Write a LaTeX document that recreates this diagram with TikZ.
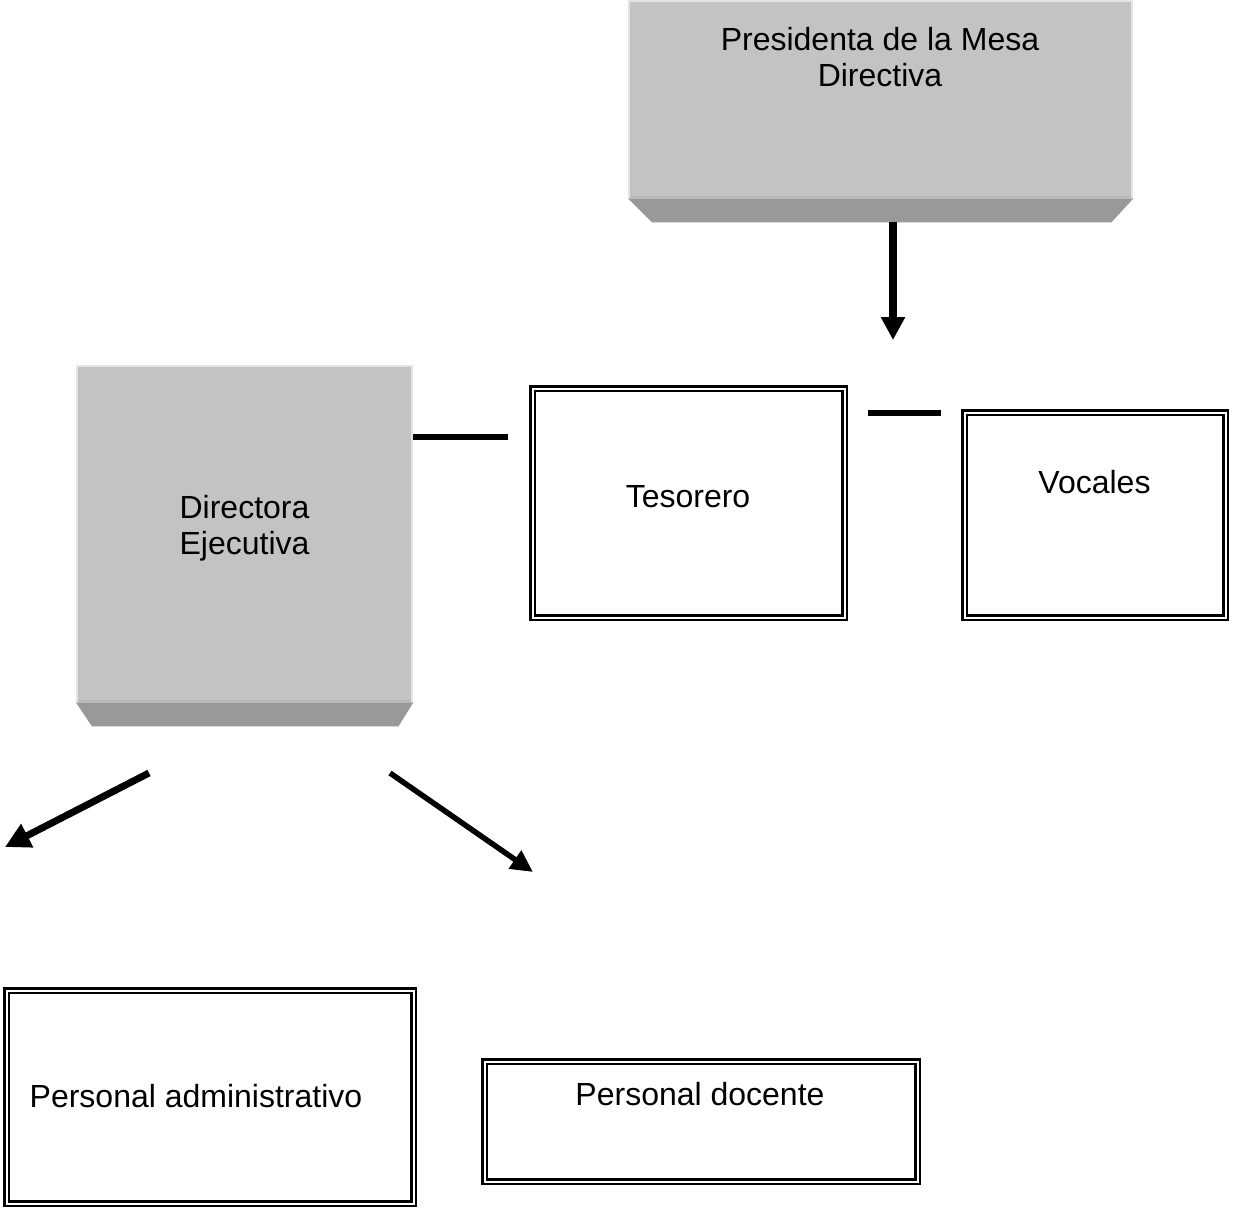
\documentclass[tikz,border=0pt]{standalone}
\usepackage{fontspec}
\setmainfont{Liberation Sans}
\usetikzlibrary{arrows.meta}
\definecolor{facegray}{HTML}{C3C3C3}
\definecolor{bevelgray}{HTML}{999999}
\definecolor{hilite}{HTML}{E4E4E4}
\definecolor{lowband}{HTML}{B8B8B8}
\begin{document}
\begin{tikzpicture}[x=1pt,y=-1pt,
  txt/.style={font=\fontsize{32}{36}\selectfont, align=center, inner sep=0pt},
  dbox/.style={draw=black, double=white, line width=2.5pt, double distance=2pt, inner sep=0pt, fill=white},
  facebox/.style={fill=facegray, draw=none, inner sep=0pt},
  conn/.style={line width=6pt},
  arrA/.style={line width=7pt, -{Triangle[length=25pt,width=25pt]}},
  arrB/.style={line width=5.5pt, -{Triangle[length=22pt,width=21pt]}},
  arrC/.style={line width=8pt, -{Triangle[length=23pt,width=23pt]}}]
\useasboundingbox (0,0) rectangle (1233,1209);
\fill[white] (0,0) rectangle (1233,1209);

% Presidenta (bevelled box)
\node[facebox, minimum width=505pt, minimum height=198pt, anchor=north west] (pres) at (628,0) {};
\fill[bevelgray] (pres.south west) -- (pres.south east) -- ([xshift=-22pt,yshift=-24pt]pres.south east) -- ([xshift=24pt,yshift=-24pt]pres.south west) -- cycle;
\draw[hilite, line width=2pt] ([xshift=1pt]pres.south west) -- ([xshift=1pt,yshift=-1pt]pres.north west) -- ([xshift=-1pt,yshift=-1pt]pres.north east) -- ([xshift=-1pt]pres.south east);
\draw[lowband, line width=2pt] ([xshift=2pt,yshift=1pt]pres.south west) -- ([xshift=-2pt,yshift=1pt]pres.south east);
\node[txt] (prest) at (880,57) {Presidenta de la Mesa\\Directiva};
\coordinate (presout) at (893,222);

% Directora (bevelled box)
\node[facebox, minimum width=337pt, minimum height=337pt, anchor=north west] (dir) at (76,365) {};
\fill[bevelgray] (dir.south west) -- (dir.south east) -- ([xshift=-15pt,yshift=-24pt]dir.south east) -- ([xshift=16pt,yshift=-24pt]dir.south west) -- cycle;
\draw[hilite, line width=2pt] ([xshift=1pt]dir.south west) -- ([xshift=1pt,yshift=-1pt]dir.north west) -- ([xshift=-1pt,yshift=-1pt]dir.north east) -- ([xshift=-1pt]dir.south east);
\draw[lowband, line width=2pt] ([xshift=2pt,yshift=1pt]dir.south west) -- ([xshift=-2pt,yshift=1pt]dir.south east);
\node[txt] (dirt) at (244.5,528) {Directora\\Ejecutiva};

% Double-line boxes
\node[dbox, minimum width=312pt, minimum height=229pt] (tes) at (688.5,503) {};
\node[txt, anchor=base] (test) at (688,507) {Tesorero};
\node[dbox, minimum width=261pt, minimum height=205pt] (voc) at (1095,515) {};
\node[txt, anchor=base] (voct) at (1094.5,493) {Vocales};
\node[dbox, minimum width=407pt, minimum height=213pt] (adm) at (210,1097) {};
\node[txt, anchor=base] (admt) at (196,1107) {Personal administrativo};
\node[dbox, minimum width=433pt, minimum height=120pt] (doc) at (701,1121.5) {};
\node[txt, anchor=base] (doct) at (700,1105) {Personal docente};

% Connectors
\coordinate (presarr) at (893,340);
\draw[arrC] (presout) -- (presarr);

\coordinate (dtline) at (508,437);
\draw[conn] (dir.east |- dtline) -- (dtline);

\coordinate (tvA) at (868,413);
\coordinate (tvB) at (941,413);
\draw[conn] (tvA) -- (tvB);

\coordinate (laS) at (149,773);
\coordinate (laE) at (5,847);
\draw[arrA] (laS) -- (laE);

\coordinate (raS) at (390,773);
\coordinate (raE) at (533,872);
\draw[arrB] (raS) -- (raE);
\end{tikzpicture}
\end{document}
